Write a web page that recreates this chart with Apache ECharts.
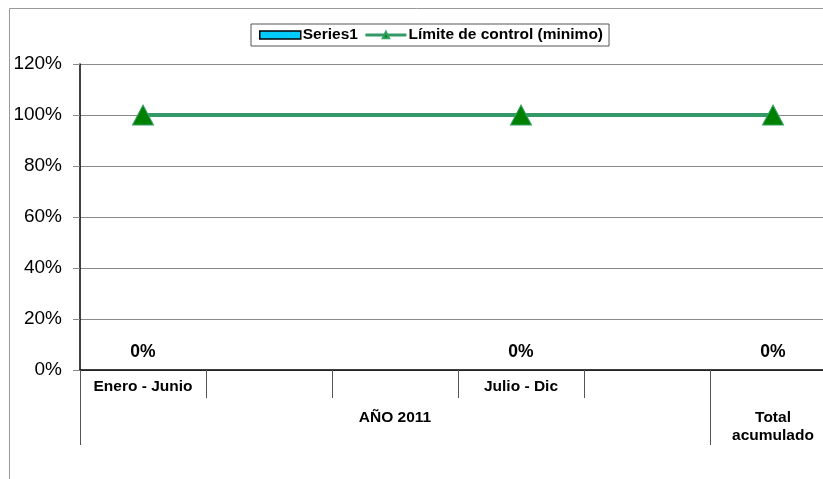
<!DOCTYPE html>
<html>
<head>
<meta charset="utf-8">
<script src="https://cdn.jsdelivr.net/npm/echarts@6/dist/echarts.min.js"></script>
<style>html,body{margin:0;padding:0;background:#fff}#c{width:823px;height:479px}</style>
</head>
<body>
<div id="c"></div>
<script>
var categories = ['Enero - Junio', '', '', 'Julio - Dic', '', ''];
var groupLabels = ['', '', '', '', '', 'AÑO 2011', '', '', '', '', '', 'Total\nacumulado', ''];
var series1 = [0, null, null, 0, null, 0];
var limite = [100, null, null, 100, null, 100];
var yTicks = { min: 0, max: 120, interval: 20 };

var FONT = 'Liberation Sans, Arial, sans-serif';
var chart = echarts.init(document.getElementById('c'));
chart.setOption({
  animation: false,
  graphic: [{
    type: 'rect', shape: { x: 9.5, y: 8.5, width: 900, height: 600 },
    style: { fill: 'none', stroke: '#999', lineWidth: 1 }, silent: true, z: -10
  }],
  legend: {
    left: 251, top: 24,
    padding: [3, 6, 3, 8],
    borderColor: '#555', borderWidth: 1,
    itemWidth: 41, itemHeight: 8, itemGap: 6,
    textStyle: { fontFamily: FONT, fontSize: 15.5, fontWeight: 'bold', color: '#000', padding: [0, 0, 0, -3] },
    data: [
      { name: 'Series1', icon: 'rect', itemStyle: { color: '#00ccff', borderColor: '#000', borderWidth: 1.5 } },
      { name: 'Límite de control (minimo)', lineStyle: { width: 3, color: '#339966' } }
    ]
  },
  grid: { left: 80, top: 64, width: 756, height: 306, outerBoundsMode: 'none', containLabel: false },
  xAxis: [{
    type: 'category', data: categories, position: 'bottom',
    axisLine: { lineStyle: { color: '#000', width: 1.5 } },
    axisTick: { show: true, interval: 0, length: 28, lineStyle: { color: '#555', width: 1 } },
    axisLabel: { interval: 0, margin: 9, fontFamily: FONT, fontSize: 15.5, fontWeight: 'bold', color: '#000' },
    splitLine: { show: false }
  }, {
    type: 'category', data: groupLabels, position: 'bottom', boundaryGap: false,
    axisLine: { show: false },
    axisTick: { show: true, length: 75, lineStyle: { color: '#555', width: 1 },
      interval: function (i) { return i === 0 || i === 10 || i === 12; } },
    axisLabel: { interval: 0, margin: 39, lineHeight: 18, fontFamily: FONT, fontSize: 15.5, fontWeight: 'bold', color: '#000' },
    splitLine: { show: false }
  }],
  yAxis: {
    type: 'value', min: yTicks.min, max: yTicks.max, interval: yTicks.interval,
    axisLine: { show: true, lineStyle: { color: '#000', width: 1.5 } },
    axisTick: { show: true, length: 7, lineStyle: { color: '#888' } },
    axisLabel: { formatter: '{value}%', margin: 18, fontFamily: FONT, fontSize: 19, color: '#000' },
    splitLine: { show: true, lineStyle: { color: '#888', width: 1 } }
  },
  series: [{
    name: 'Series1', type: 'bar', xAxisIndex: 0, data: series1, barWidth: 60,
    itemStyle: { color: '#00ccff', borderColor: '#000', borderWidth: 0 },
    label: { show: true, position: 'top', distance: 9, formatter: '{c}%',
      fontFamily: FONT, fontSize: 17.5, fontWeight: 'bold', color: '#000' }
  }, {
    name: 'Límite de control (minimo)', type: 'line', xAxisIndex: 0, data: limite,
    connectNulls: true,
    lineStyle: { color: '#339966', width: 4 },
    symbol: 'triangle', symbolSize: [21, 20],
    itemStyle: { color: '#008000', borderColor: '#33a066', borderWidth: 1 },
    z: 5
  }]
});
</script>
</body>
</html>
